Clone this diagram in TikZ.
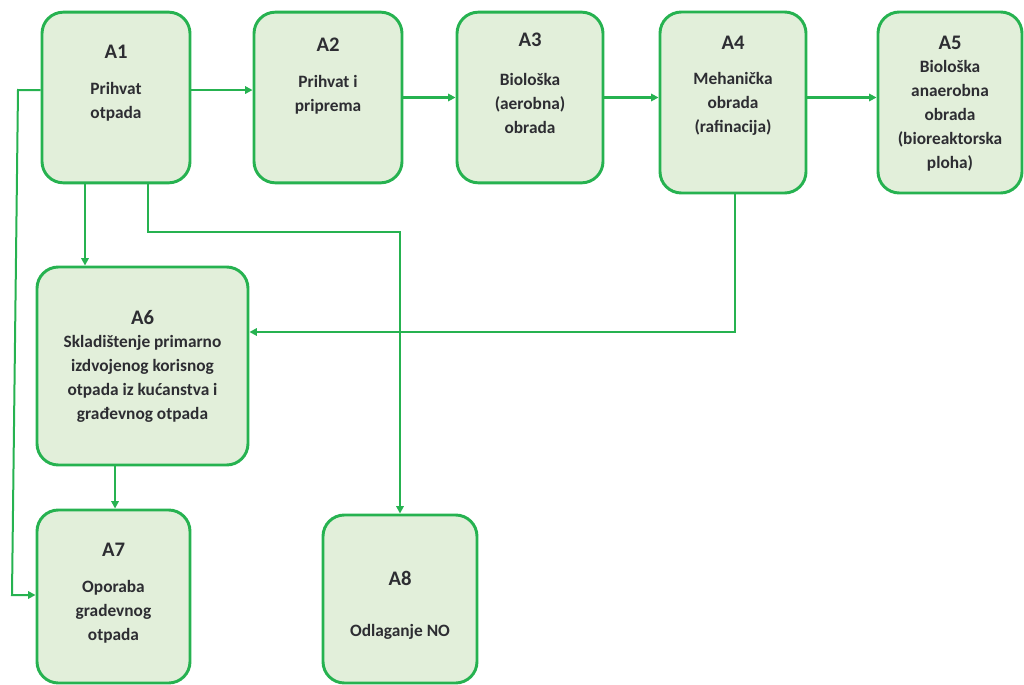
\documentclass[tikz,border=0pt]{standalone}
\usepackage{fontspec}
\setmainfont{Carlito}
\usetikzlibrary{arrows.meta}
\definecolor{boxgreen}{RGB}{38,178,80}
\definecolor{boxfill}{RGB}{226,239,218}
\definecolor{txt}{RGB}{45,45,50}
\begin{document}
\begin{tikzpicture}[
x=0.75pt, y=-0.75pt,
box/.style = {shape=rectangle, rounded corners=16pt, draw=boxgreen, line width=2.2pt, fill=boxfill, inner sep=0pt},
title/.style = {text=txt, font=\fontsize{15.5}{18}\selectfont\bfseries},
body/.style = {text=txt, align=center, font=\fontsize{13}{18}\selectfont\bfseries},
flow/.style = {draw=boxgreen, line width=1.5pt, -{Triangle[length=5.5pt,width=5.5pt]}},
]
  \useasboundingbox (0,0) rectangle (1024,685);
  % boxes
  \node[box, minimum width=111pt, minimum height=128pt] (A1) at (116,97.5) {};
  \node[box, minimum width=111pt, minimum height=128pt] (A2) at (328,97.5) {};
  \node[box, minimum width=109.5pt, minimum height=128pt] (A3) at (530,97.5) {};
  \node[box, minimum width=109.5pt, minimum height=135.75pt] (A4) at (733,102.5) {};
  \node[box, minimum width=108pt, minimum height=135.75pt] (A5) at (950,102.5) {};
  \node[box, minimum width=158.25pt, minimum height=148.5pt] (A6) at (142.5,366) {};
  \node[box, minimum width=114.75pt, minimum height=129.75pt] (A7) at (113.5,596.5) {};
  \node[box, minimum width=115.5pt, minimum height=126pt] (A8) at (400,599) {};
  % texts
  \node[title] (t1) at (116,52) {A1};
  \node[body] (b1) at (116,101.5) {Prihvat\\otpada};
  \node[title] (t2) at (328,45) {A2};
  \node[body] (b2) at (328,94.5) {Prihvat i\\priprema};
  \node[title] (t3) at (530,40) {A3};
  \node[body] (b3) at (530,103) {Biološka\\(aerobna)\\obrada};
  \node[title] (t4) at (733,43) {A4};
  \node[body] (b4) at (733,104) {Mehanička\\obrada\\(rafinacija)};
  \node[title] (t5) at (950,43) {A5};
  \node[body] (b5) at (950,116) {Biološka\\anaerobna\\obrada\\(bioreaktorska\\ploha)};
  \node[title] (t6) at (142.5,318) {A6};
  \node[body] (b6) at (142.5,379) {Skladištenje primarno\\izdvojenog korisnog\\otpada iz kućanstva i\\građevnog otpada};
  \node[title] (t7) at (113.5,550) {A7};
  \node[body] (b7) at (113.5,612) {Oporaba\\gradevnog\\otpada};
  \node[title] (t8) at (400,578) {A8};
  \node[body] (b8) at (400,632) {Odlaganje NO};
  % connectors
  \coordinate (loopT) at (18,90);
  \coordinate (loopB) at (12,595);
  \coordinate (bendA8) at (400,232);
  \draw[flow, line width=2.2pt] ([yshift=5.6pt]A1.east) -- ([yshift=5.6pt]A2.west);
  \draw[flow] (A2.east) -- (A3.west);
  \draw[flow] (A3.east) -- (A3.east -| A4.west);
  \draw[flow] (A4.east |- A3.east) -- (A5.west |- A3.east);
  \draw[flow] ([yshift=5.6pt]A1.west) -- (loopT) -- (loopB) -- (loopB -| A7.west);
  \draw[flow] ([xshift=-23.25pt]A1.south) -- ([xshift=-23.25pt]A1.south |- A6.north);
  \draw[flow] ([xshift=24pt]A1.south) |- (bendA8) -- (A8.north);
  \draw[flow] ([xshift=1.5pt]A4.south) |- ([yshift=25.5pt]A6.east);
  \draw[flow] ([xshift=-20.6pt]A6.south) -- ([xshift=-20.6pt]A6.south |- A7.north);
\end{tikzpicture}
\end{document}
